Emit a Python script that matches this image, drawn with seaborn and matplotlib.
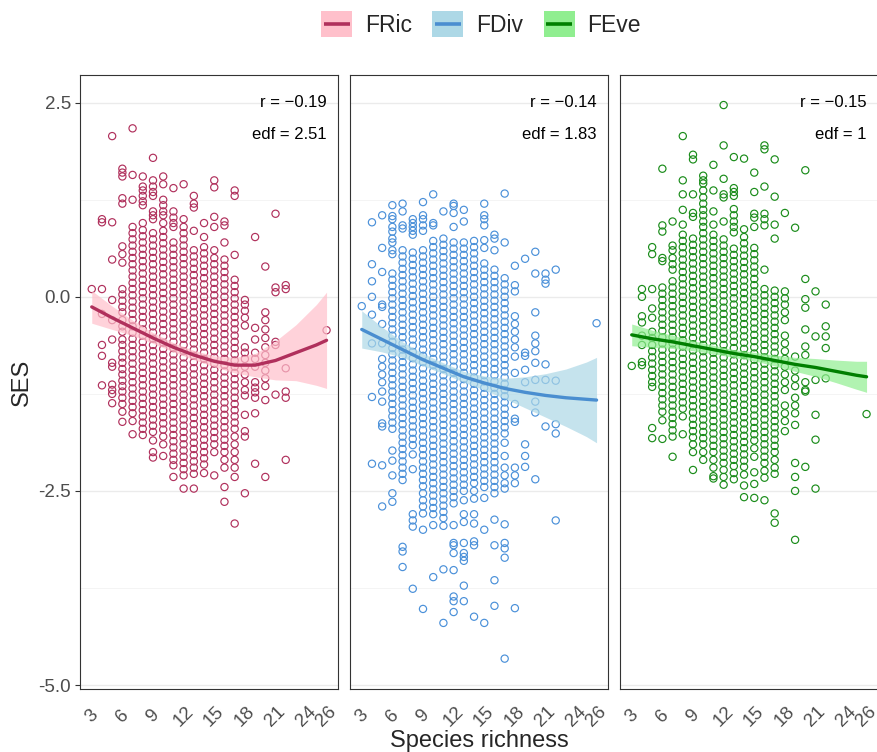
import numpy as np
import pandas as pd
import matplotlib
matplotlib.use("Agg")
import matplotlib.pyplot as plt
import seaborn as sns
from matplotlib.patches import Rectangle
from matplotlib.lines import Line2D
from matplotlib.legend_handler import HandlerBase

# ---------------- data ----------------
richness_levels = [3, 4, 5, 6, 7, 8, 9, 10, 11, 12, 13, 14, 15, 16, 17, 18, 19, 20, 21, 22, 26]

fric_ses = [
    "0.1",
    "1.0 0.96 0.1 -0.22 -0.62 -0.76 -1.14",
    "2.07 0.96 0.48 -0.04 -0.3 -0.55 -0.85 -0.9 -1.13 -1.2 -1.25 -1.37",
    "1.65 1.6 1.55 1.27 1.2 0.65 0.55 0.44 0.1 0.03 -0.05 -0.13 -0.2 -0.3 -0.38 -0.45 -0.55 -0.62 -0.7 -0.78 -0.85 -0.93 -1.0 -1.08 -1.15 -1.22 -1.3 -1.38 -1.48 -1.61",
    "2.17 1.57 1.25 0.9 0.82 0.74 0.66 0.58 0.5 0.42 0.34 0.26 0.18 0.1 0.02 -0.06 -0.14 -0.22 -0.3 -0.38 -0.46 -0.54 -0.62 -0.7 -0.78 -0.86 -0.94 -1.02 -1.1 -1.18 -1.26 -1.34 -1.42 -1.5 -1.6 -1.77",
    "1.55 1.42 1.37 1.3 1.23 1.18 0.95 0.86 0.78 0.7 0.62 0.54 0.46 0.38 0.3 0.22 0.14 0.06 -0.02 -0.1 -0.18 -0.26 -0.34 -0.42 -0.5 -0.58 -0.66 -0.74 -0.82 -0.9 -0.98 -1.06 -1.14 -1.22 -1.3 -1.38 -1.46 -1.54 -1.62 -1.7 -1.78",
    "1.79 1.5 1.42 1.35 1.3 1.1 1.05 1.0 0.82 0.74 0.66 0.58 0.5 0.42 0.34 0.26 0.18 0.1 0.02 -0.06 -0.14 -0.22 -0.3 -0.38 -0.46 -0.54 -0.62 -0.7 -0.78 -0.86 -0.94 -1.02 -1.1 -1.18 -1.26 -1.34 -1.42 -1.5 -1.58 -1.66 -1.74 -1.85 -2.0 -2.07",
    "1.55 1.45 1.25 1.18 1.1 1.05 0.95 0.85 0.77 0.69 0.61 0.53 0.45 0.37 0.29 0.21 0.13 0.05 -0.03 -0.11 -0.19 -0.27 -0.35 -0.43 -0.51 -0.59 -0.67 -0.75 -0.83 -0.91 -0.99 -1.07 -1.15 -1.23 -1.31 -1.39 -1.47 -1.55 -1.63 -1.71 -1.8 -1.9 -2.05",
    "1.4 1.1 1.02 0.95 0.9 0.7 0.62 0.54 0.46 0.38 0.3 0.22 0.14 0.06 -0.02 -0.1 -0.18 -0.26 -0.34 -0.42 -0.5 -0.58 -0.66 -0.74 -0.82 -0.9 -0.98 -1.06 -1.14 -1.22 -1.3 -1.38 -1.46 -1.54 -1.62 -1.7 -1.78 -1.86 -1.94 -2.02 -2.1 -2.17 -2.32",
    "1.45 1.0 0.9 0.82 0.74 0.66 0.58 0.5 0.42 0.34 0.26 0.18 0.1 0.02 -0.06 -0.14 -0.22 -0.3 -0.38 -0.46 -0.54 -0.62 -0.7 -0.78 -0.86 -0.94 -1.02 -1.1 -1.18 -1.26 -1.34 -1.42 -1.5 -1.58 -1.66 -1.74 -1.82 -1.9 -1.98 -2.06 -2.14 -2.22 -2.3 -2.47",
    "1.3 1.2 1.15 0.85 0.6 0.52 0.44 0.36 0.28 0.2 0.12 0.04 -0.04 -0.12 -0.2 -0.28 -0.36 -0.44 -0.52 -0.6 -0.68 -0.76 -0.84 -0.92 -1.0 -1.08 -1.16 -1.24 -1.32 -1.4 -1.48 -1.56 -1.64 -1.72 -1.8 -1.88 -1.96 -2.04 -2.12 -2.2 -2.28 -2.47",
    "0.95 0.77 0.64 0.56 0.48 0.4 0.32 0.24 0.16 0.08 0.0 -0.08 -0.16 -0.24 -0.32 -0.4 -0.48 -0.56 -0.64 -0.72 -0.8 -0.88 -0.96 -1.04 -1.12 -1.2 -1.28 -1.36 -1.44 -1.52 -1.6 -1.68 -1.76 -1.84 -1.92 -2.0 -2.08 -2.16 -2.27",
    "1.5 1.41 1.03 0.9 0.6 0.5 0.42 0.34 0.26 0.18 0.1 0.02 -0.06 -0.14 -0.22 -0.3 -0.38 -0.46 -0.54 -0.62 -0.7 -0.78 -0.86 -0.94 -1.02 -1.1 -1.18 -1.26 -1.34 -1.42 -1.5 -1.58 -1.66 -1.74 -1.82 -1.9 -2.0 -2.3",
    "0.97 0.92 0.7 0.48 0.4 0.32 0.24 0.16 0.08 0.0 -0.08 -0.16 -0.24 -0.32 -0.4 -0.48 -0.56 -0.64 -0.72 -0.8 -0.88 -0.96 -1.04 -1.12 -1.2 -1.28 -1.36 -1.44 -1.52 -1.6 -1.68 -1.76 -1.84 -1.92 -2.0 -2.1 -2.2 -2.45 -2.64",
    "1.37 1.3 0.54 0.22 0.14 0.06 -0.02 -0.1 -0.18 -0.26 -0.34 -0.42 -0.5 -0.58 -0.66 -0.74 -0.82 -0.9 -0.98 -1.06 -1.14 -1.22 -1.3 -1.38 -1.46 -1.54 -1.62 -1.7 -1.8 -1.9 -2.0 -2.1 -2.2 -2.32 -2.92",
    "-0.04 -0.1 -0.18 -0.27 -0.37 -0.65 -0.72 -0.8 -0.9 -1.0 -1.1 -1.2 -1.27 -1.52 -1.73 -1.8 -2.53",
    "0.77 -0.4 -0.55 -0.72 -0.8 -0.9 -1.1 -1.17 -1.23 -1.3 -1.5 -2.15",
    "0.39 -0.2 -0.3 -0.42 -0.53 -0.65 -0.75 -0.85 -0.95 -1.05 -1.15 -1.33 -2.32",
    "1.07 0.12 0.06 -0.58 -0.62 -1.26",
    "0.15 0.1 -0.92 -1.22 -1.3 -2.1",
    "-0.43",
]

fdiv_ses = [
    "-0.12",
    "0.96 0.42 0.2 0.0 -0.23 -0.6 -1.29 -2.15",
    "1.05 0.63 0.32 -0.1 -0.13 -0.35 -0.6 -0.8 -0.9 -1.0 -1.1 -1.22 -1.35 -1.63 -1.67 -2.17 -2.7",
    "1.18 1.04 1.0 0.9 0.84 0.75 0.7 0.6 0.55 0.3 0.22 0.14 0.06 -0.02 -0.1 -0.18 -0.26 -0.34 -0.42 -0.5 -0.58 -0.66 -0.74 -0.82 -0.9 -0.98 -1.06 -1.14 -1.22 -1.3 -1.38 -1.46 -1.54 -1.62 -1.7 -1.98 -2.11 -2.3 -2.53 -2.64",
    "1.2 1.1 0.92 0.88 0.6 0.52 0.44 0.36 0.28 0.2 0.12 0.04 -0.04 -0.12 -0.2 -0.28 -0.36 -0.44 -0.52 -0.6 -0.68 -0.76 -0.84 -0.92 -1.0 -1.08 -1.16 -1.24 -1.32 -1.4 -1.48 -1.56 -1.64 -1.72 -1.8 -1.88 -1.96 -2.04 -2.12 -2.2 -2.28 -2.36 -3.22 -3.28 -3.48",
    "1.0 0.95 0.9 0.85 0.8 0.57 0.49 0.41 0.33 0.25 0.17 0.09 0.01 -0.07 -0.15 -0.23 -0.31 -0.39 -0.47 -0.55 -0.63 -0.71 -0.79 -0.87 -0.95 -1.03 -1.11 -1.19 -1.27 -1.35 -1.43 -1.51 -1.59 -1.67 -1.75 -1.83 -1.91 -2.03 -2.22 -2.8 -2.88 -2.96 -3.76",
    "1.22 1.05 1.0 0.92 0.85 0.6 0.52 0.44 0.36 0.28 0.2 0.12 0.04 -0.04 -0.12 -0.2 -0.28 -0.36 -0.44 -0.52 -0.6 -0.68 -0.76 -0.84 -0.92 -1.0 -1.08 -1.16 -1.24 -1.32 -1.4 -1.48 -1.56 -1.64 -1.72 -1.8 -1.88 -1.96 -2.04 -2.12 -2.2 -2.28 -2.36 -2.44 -2.53 -2.62 -2.7 -2.79 -3.0 -4.02",
    "1.32 0.95 0.92 0.72 0.64 0.56 0.48 0.4 0.32 0.24 0.16 0.08 0.0 -0.08 -0.16 -0.24 -0.32 -0.4 -0.48 -0.56 -0.64 -0.72 -0.8 -0.88 -0.96 -1.04 -1.12 -1.2 -1.28 -1.36 -1.44 -1.52 -1.6 -1.68 -1.76 -1.84 -1.92 -2.0 -2.08 -2.16 -2.24 -2.32 -2.4 -2.48 -2.56 -2.64 -2.72 -2.8 -2.94 -3.61",
    "1.1 0.75 0.67 0.59 0.51 0.43 0.35 0.27 0.19 0.11 0.03 -0.05 -0.13 -0.21 -0.29 -0.37 -0.45 -0.53 -0.61 -0.69 -0.77 -0.85 -0.93 -1.01 -1.09 -1.17 -1.25 -1.33 -1.41 -1.49 -1.57 -1.65 -1.73 -1.81 -1.89 -1.97 -2.05 -2.13 -2.21 -2.29 -2.37 -2.45 -2.53 -2.61 -2.69 -2.77 -2.85 -2.95 -3.51 -4.2",
    "1.2 1.17 1.08 0.9 0.7 0.62 0.54 0.46 0.38 0.3 0.22 0.14 0.06 -0.02 -0.1 -0.18 -0.26 -0.34 -0.42 -0.5 -0.58 -0.66 -0.74 -0.82 -0.9 -0.98 -1.06 -1.14 -1.22 -1.3 -1.38 -1.46 -1.54 -1.62 -1.7 -1.78 -1.86 -1.94 -2.02 -2.1 -2.18 -2.26 -2.34 -2.42 -2.5 -2.58 -2.66 -2.94 -3.17 -3.2 -3.3 -3.52 -3.86 -3.92 -4.06",
    "1.12 0.97 0.7 0.62 0.54 0.46 0.38 0.3 0.22 0.14 0.06 -0.02 -0.1 -0.18 -0.26 -0.34 -0.42 -0.5 -0.58 -0.66 -0.74 -0.82 -0.9 -0.98 -1.06 -1.14 -1.22 -1.3 -1.38 -1.46 -1.54 -1.62 -1.7 -1.78 -1.86 -1.94 -2.02 -2.1 -2.18 -2.26 -2.34 -2.42 -2.5 -2.62 -2.8 -2.9 -3.17 -3.3 -3.35 -3.4 -3.72 -3.92",
    "0.72 0.64 0.56 0.48 0.4 0.32 0.24 0.16 0.08 0.0 -0.08 -0.16 -0.24 -0.32 -0.4 -0.48 -0.56 -0.64 -0.72 -0.8 -0.88 -0.96 -1.04 -1.12 -1.2 -1.28 -1.36 -1.44 -1.52 -1.6 -1.68 -1.76 -1.84 -1.92 -2.0 -2.08 -2.16 -2.24 -2.32 -2.4 -2.5 -2.6 -2.8 -2.92 -3.15 -3.2 -4.12",
    "1.2 1.05 1.0 0.92 0.73 0.63 0.43 0.35 0.27 0.19 0.11 0.03 -0.05 -0.13 -0.21 -0.29 -0.37 -0.45 -0.53 -0.61 -0.69 -0.77 -0.85 -0.93 -1.01 -1.09 -1.17 -1.25 -1.33 -1.41 -1.49 -1.57 -1.65 -1.73 -1.81 -1.89 -1.97 -2.05 -2.13 -2.21 -2.29 -2.37 -2.45 -2.59 -3.0 -4.2",
    "0.8 0.75 0.6 0.35 0.27 0.19 0.11 0.03 -0.05 -0.13 -0.21 -0.29 -0.37 -0.45 -0.53 -0.61 -0.69 -0.77 -0.85 -0.93 -1.01 -1.09 -1.17 -1.25 -1.33 -1.41 -1.49 -1.57 -1.65 -1.73 -1.81 -1.89 -1.97 -2.05 -2.13 -2.21 -2.29 -2.37 -2.45 -2.53 -2.87 -3.2 -3.65 -3.98",
    "1.33 0.7 0.24 0.16 0.08 0.0 -0.08 -0.16 -0.24 -0.32 -0.4 -0.48 -0.56 -0.64 -0.72 -0.8 -0.88 -0.96 -1.04 -1.12 -1.2 -1.28 -1.36 -1.44 -1.52 -1.6 -1.68 -1.76 -1.88 -2.05 -2.2 -2.3 -2.4 -2.47 -2.93 -3.17 -3.24 -3.36 -4.66",
    "0.4 0.15 0.07 -0.25 -0.35 -0.45 -0.55 -0.65 -0.77 -0.98 -1.38 -1.57 -1.61 -2.2 -2.3 -2.4 -4.01",
    "0.49 -0.72 -0.76 -0.94 -1.1 -1.9 -2.05 -2.19",
    "0.58 0.3 -0.2 -0.5 -0.6 -0.7 -0.85 -1.07 -1.35 -1.49 -2.35",
    "0.3 0.22 0.17 -0.87 -1.07 -1.67",
    "0.35 -1.08 -1.64 -1.76 -2.88",
    "-0.34",
]

feve_ses = [
    "-0.89",
    "0.1 0.0 -0.25 -0.33 -0.5 -0.62 -0.84 -0.88",
    "0.64 0.55 0.1 -0.15 -0.27 -0.45 -0.53 -0.62 -0.7 -0.78 -0.86 -0.94 -1.02 -1.1 -1.16 -1.69 -1.82",
    "1.65 0.92 0.84 0.5 0.46 0.12 0.04 -0.04 -0.12 -0.2 -0.28 -0.36 -0.44 -0.52 -0.6 -0.68 -0.76 -0.84 -0.92 -1.0 -1.08 -1.16 -1.24 -1.32 -1.4 -1.48 -1.59 -1.83",
    "0.97 0.66 0.6 0.5 0.42 0.35 0.2 0.12 0.04 -0.04 -0.12 -0.2 -0.28 -0.36 -0.44 -0.52 -0.6 -0.68 -0.76 -0.84 -0.92 -1.0 -1.08 -1.16 -1.24 -1.32 -1.4 -1.48 -1.56 -1.64 -1.72 -1.8 -2.06",
    "2.07 1.5 1.32 1.12 0.93 0.8 0.72 0.64 0.56 0.48 0.4 0.32 0.24 0.16 0.08 0.0 -0.08 -0.16 -0.24 -0.32 -0.4 -0.48 -0.56 -0.64 -0.72 -0.8 -0.88 -0.96 -1.04 -1.12 -1.2 -1.28 -1.36 -1.44 -1.54 -1.77",
    "1.83 1.77 1.32 1.08 1.03 0.75 0.67 0.59 0.51 0.43 0.35 0.27 0.19 0.11 0.03 -0.05 -0.13 -0.21 -0.29 -0.37 -0.45 -0.53 -0.61 -0.69 -0.77 -0.85 -0.93 -1.01 -1.09 -1.17 -1.25 -1.33 -1.41 -1.49 -1.57 -1.65 -1.73 -1.81 -1.9 -2.0 -2.23",
    "1.56 1.5 1.46 1.37 1.28 1.2 1.12 1.05 0.97 0.9 0.82 0.74 0.66 0.58 0.5 0.42 0.34 0.26 0.18 0.1 0.02 -0.06 -0.14 -0.22 -0.3 -0.38 -0.46 -0.54 -0.62 -0.7 -0.78 -0.86 -0.94 -1.02 -1.1 -1.18 -1.26 -1.34 -1.42 -1.5 -1.58 -1.66 -1.74 -1.82 -1.9 -2.0 -2.1",
    "1.7 1.37 1.1 0.93 0.8 0.72 0.64 0.56 0.48 0.4 0.32 0.24 0.16 0.08 0.0 -0.08 -0.16 -0.24 -0.32 -0.4 -0.48 -0.56 -0.64 -0.72 -0.8 -0.88 -0.96 -1.04 -1.12 -1.2 -1.28 -1.36 -1.44 -1.52 -1.6 -1.68 -1.76 -1.84 -1.92 -2.0 -2.1 -2.2 -2.31 -2.34",
    "2.47 1.95 1.52 1.32 1.28 0.97 0.74 0.66 0.58 0.5 0.42 0.34 0.26 0.18 0.1 0.02 -0.06 -0.14 -0.22 -0.3 -0.38 -0.46 -0.54 -0.62 -0.7 -0.78 -0.86 -0.94 -1.02 -1.1 -1.18 -1.26 -1.34 -1.42 -1.5 -1.58 -1.66 -1.74 -1.82 -1.9 -1.98 -2.06 -2.14 -2.23 -2.32 -2.42",
    "1.8 1.4 1.35 1.3 1.13 1.05 0.97 0.9 0.83 0.62 0.54 0.46 0.38 0.3 0.22 0.14 0.06 -0.02 -0.1 -0.18 -0.26 -0.34 -0.42 -0.5 -0.58 -0.66 -0.74 -0.82 -0.9 -0.98 -1.06 -1.14 -1.22 -1.3 -1.38 -1.46 -1.54 -1.62 -1.7 -1.78 -1.86 -1.94 -2.02 -2.1 -2.18 -2.27 -2.35",
    "1.78 0.87 0.77 0.69 0.61 0.53 0.45 0.37 0.29 0.21 0.13 0.05 -0.03 -0.11 -0.19 -0.27 -0.35 -0.43 -0.51 -0.59 -0.67 -0.75 -0.83 -0.91 -0.99 -1.07 -1.15 -1.23 -1.31 -1.39 -1.47 -1.55 -1.63 -1.71 -1.79 -1.87 -1.95 -2.03 -2.11 -2.19 -2.29 -2.43 -2.58",
    "1.6 1.35 1.07 1.02 0.9 0.63 0.55 0.47 0.39 0.31 0.23 0.15 0.07 -0.01 -0.09 -0.17 -0.25 -0.33 -0.41 -0.49 -0.57 -0.65 -0.73 -0.81 -0.89 -0.97 -1.05 -1.13 -1.21 -1.29 -1.37 -1.45 -1.53 -1.61 -1.69 -1.77 -1.85 -1.95 -2.06 -2.26 -2.41 -2.59",
    "1.95 1.9 1.42 1.07 1.0 0.92 0.35 0.1 0.02 -0.06 -0.14 -0.22 -0.3 -0.38 -0.46 -0.54 -0.62 -0.7 -0.78 -0.86 -0.94 -1.02 -1.1 -1.18 -1.26 -1.34 -1.42 -1.5 -1.58 -1.66 -1.74 -1.82 -1.9 -1.98 -2.06 -2.14 -2.24 -2.33 -2.62",
    "1.77 1.29 0.93 0.75 0.08 0.0 -0.08 -0.16 -0.24 -0.32 -0.4 -0.48 -0.56 -0.64 -0.72 -0.8 -0.88 -0.96 -1.04 -1.12 -1.2 -1.28 -1.36 -1.44 -1.52 -1.6 -1.68 -1.76 -1.84 -1.92 -2.0 -2.1 -2.2 -2.28 -2.79 -2.91",
    "1.08 0.07 -0.02 -0.1 -0.2 -0.3 -0.5 -0.6 -0.7 -0.8 -0.9 -1.0 -1.1 -1.2 -1.4 -1.5 -1.6 -1.73",
    "0.89 -0.77 -0.95 -1.05 -1.15 -1.3 -1.4 -1.5 -1.65 -2.14 -2.32 -2.5 -3.13",
    "1.63 0.23 -0.03 -0.14 -0.42 -0.64 -0.75 -1.1 -1.2 -1.22 -2.19",
    "0.07 -0.51 -1.07 -1.52 -1.84 -2.47",
    "-0.1 -0.38 -0.51 -0.66 -1.05",
    "-1.51",
]

# smoother fits
fit_x = [3, 5, 7, 9, 11, 13, 15, 17, 19, 21, 23, 25, 26]
fric_fit = [-0.13, -0.27, -0.40, -0.53, -0.65, -0.75, -0.83, -0.88, -0.88, -0.82, -0.72, -0.62, -0.56]
fric_half = [0.21, 0.15, 0.10, 0.07, 0.06, 0.06, 0.07, 0.10, 0.15, 0.25, 0.36, 0.52, 0.62]
fdiv_fit = [-0.42, -0.55, -0.68, -0.81, -0.92, -1.03, -1.11, -1.18, -1.23, -1.27, -1.30, -1.32, -1.33]
fdiv_half = [0.24, 0.16, 0.10, 0.08, 0.07, 0.07, 0.09, 0.13, 0.20, 0.28, 0.37, 0.48, 0.55]
feve_fit = [-0.49, -0.54, -0.58, -0.63, -0.68, -0.73, -0.77, -0.82, -0.87, -0.91, -0.96, -1.01, -1.03]
feve_half = [0.14, 0.11, 0.085, 0.065, 0.055, 0.05, 0.055, 0.07, 0.09, 0.115, 0.145, 0.18, 0.20]

panel_names = ["FRic", "FDiv", "FEve"]
r_labels = ["r = \u22120.19", "r = \u22120.14", "r = \u22120.15"]
edf_labels = ["edf = 2.51", "edf = 1.83", "edf = 1"]
x_ticks = [3, 6, 9, 12, 15, 18, 21, 24, 26]
y_ticks = [-5.0, -2.5, 0.0, 2.5]
y_ticklabels = ["-5.0", "-2.5", "0.0", "2.5"]

# ---------------- styling ----------------
point_colors = ["#B0305C", "#4A90D9", "#1A8C1A"]
line_colors = ["#B0305C", "#4A8ED0", "#007F00"]
band_colors = ["#FFC0CB", "#ADD8E6", "#90EE90"]

sns.set_theme(style="white")
plt.rcParams["font.family"] = ["Liberation Sans", "DejaVu Sans"]


def expand(levels, cols):
    xs, ys = [], []
    for x, s in zip(levels, cols):
        vals = [float(v) for v in s.split()]
        xs += [x] * len(vals)
        ys += vals
    return xs, ys


frames = []
for name, cols in zip(panel_names, [fric_ses, fdiv_ses, feve_ses]):
    xs, ys = expand(richness_levels, cols)
    frames.append(pd.DataFrame({"index": name, "richness": xs, "ses": ys}))
df = pd.concat(frames, ignore_index=True)

fits = pd.DataFrame({
    "richness": fit_x * 3,
    "index": sum([[n] * len(fit_x) for n in panel_names], []),
    "fit": fric_fit + fdiv_fit + feve_fit,
    "half": fric_half + fdiv_half + feve_half,
})

fig = plt.figure(figsize=(8.77, 7.52), dpi=100)
W, H = 877.0, 752.0
lefts = [80, 350, 620]
pw = 258.3
top_px, bot_px = 75.0, 689.3

for i, name in enumerate(panel_names):
    ax = fig.add_axes([lefts[i] / W, (H - bot_px) / H, pw / W, (bot_px - top_px) / H])
    sub = df[df["index"] == name]
    sns.scatterplot(data=sub, x="richness", y="ses", ax=ax, marker="o", s=27,
                    facecolors="none", edgecolor=point_colors[i], linewidth=0.85,
                    zorder=2, legend=False)
    f = fits[fits["index"] == name]
    ax.fill_between(f["richness"], f["fit"] - f["half"], f["fit"] + f["half"],
                    color=band_colors[i], alpha=0.7, lw=0, zorder=3)
    sns.lineplot(data=f, x="richness", y="fit", ax=ax, color=line_colors[i],
                 lw=2.4, zorder=4, legend=False)

    ax.set_xlim(1.85, 27.15)
    ax.set_ylim(-5.055, 2.857)
    ax.set_yticks(y_ticks)
    ax.set_yticks([-3.75, -1.25, 1.25], minor=True)
    ax.grid(axis="y", which="major", color="#EBEBEB", lw=1.0)
    ax.grid(axis="y", which="minor", color="#F2F2F2", lw=0.6)
    ax.grid(axis="x", visible=False)
    ax.set_axisbelow(True)
    ax.set_xticks(x_ticks)
    ax.set_xticklabels([str(t) for t in x_ticks], rotation=45, ha="center", va="center")
    ax.tick_params(axis="x", which="major", length=3.5, width=0.8, color="#333333",
                   labelcolor="#4D4D4D", labelsize=13.5, pad=16)
    ax.tick_params(axis="y", which="minor", length=0)
    if i == 0:
        ax.set_yticklabels(y_ticklabels)
        ax.tick_params(axis="y", which="major", length=3.5, width=0.8, color="#333333",
                       labelcolor="#4D4D4D", labelsize=13.5, pad=3, left=True)
    else:
        ax.tick_params(axis="y", which="major", length=0, labelleft=False)
    for sp in ax.spines.values():
        sp.set_color("#333333")
        sp.set_linewidth(0.8)
    ax.set_xlabel("")
    ax.set_ylabel("")
    ax.text(26, 2.5, r_labels[i], ha="right", va="center", fontsize=12, color="black", zorder=5)
    ax.text(26, 2.09, edf_labels[i], ha="right", va="center", fontsize=12, color="black", zorder=5)

fig.text(22 / W, 1 - 382 / H, "SES", rotation=90, ha="center", va="center", fontsize=17)
fig.text(479 / W, 1 - 747 / H, "Species richness", ha="center", va="baseline", fontsize=17)


class LegendKey:
    def __init__(self, fill, line):
        self.fill = fill
        self.line = line


class KeyHandler(HandlerBase):
    def create_artists(self, legend, orig_handle, xdescent, ydescent, width, height,
                       fontsize, trans):
        x0, y0 = -xdescent, -ydescent
        rect = Rectangle((x0, y0), width, height, facecolor=orig_handle.fill,
                         edgecolor="none", transform=trans)
        ym = y0 + height / 2
        ln = Line2D([x0 + 0.08 * width, x0 + 0.92 * width], [ym, ym],
                    color=orig_handle.line, lw=2.6, solid_capstyle="butt", transform=trans)
        return [rect, ln]


handles = [LegendKey(band_colors[i], line_colors[i]) for i in range(3)]
fig.legend(handles, panel_names, handler_map={LegendKey: KeyHandler()},
           loc="center", bbox_to_anchor=(481 / W, 1 - 24 / H), ncol=3, frameon=False,
           fontsize=16.5, handlelength=1.35, handleheight=1.35, handletextpad=0.55,
           columnspacing=0.9, borderaxespad=0)

fig.savefig("out.png", dpi=100)
